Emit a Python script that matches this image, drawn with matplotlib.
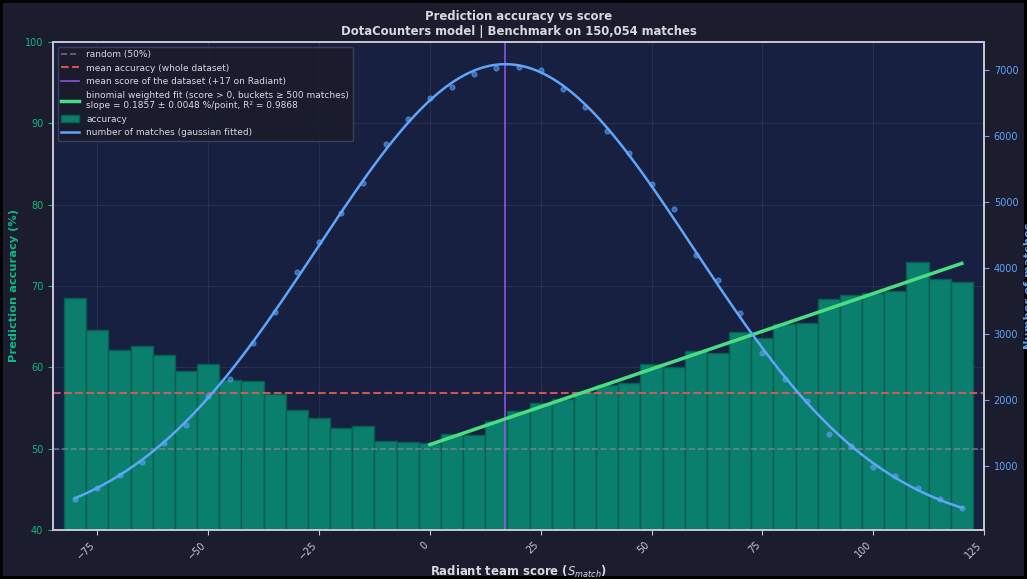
import numpy as np
import matplotlib.pyplot as plt

# score buckets (centre of each 5-point bucket)
scores = [-80, -75, -70, -65, -60, -55, -50, -45, -40, -35, -30, -25, -20, -15, -10, -5,
          0, 5, 10, 15, 20, 25, 30, 35, 40, 45, 50, 55, 60, 65, 70, 75, 80, 85, 90, 95,
          100, 105, 110, 115, 120]
accuracy = [68.5, 64.6, 62.1, 62.6, 61.5, 59.5, 60.4, 58.4, 58.3, 56.7, 54.8, 53.8, 52.5, 52.8,
            51.0, 50.8, 50.7, 51.8, 51.7, 53.4, 54.6, 55.6, 56.1, 57.0, 57.8, 58.1, 60.45, 60.1,
            62.0, 61.8, 64.4, 63.6, 65.3, 65.4, 68.4, 68.9, 69.2, 69.4, 72.9, 70.9, 70.5]
n_matches = [507, 668, 869, 1069, 1362, 1627, 2064, 2316, 2869, 3337, 3934, 4392, 4838, 5282,
             5874, 6246, 6572, 6729, 6934, 7030, 7040, 6990, 6699, 6427, 6075, 5743, 5271, 4894,
             4190, 3813, 3322, 2719, 2327, 1989, 1497, 1311, 994, 858, 673, 502, 376]

mean_accuracy = 56.9
mean_score = 17
fit_slope = 0.1857
fit_intercept = 50.5

x = np.array(scores)
acc = np.array(accuracy)
cnt = np.array(n_matches)

# gaussian fit on the match counts (log-quadratic, weighted)
coef = np.polyfit(x, np.log(cnt), 2, w=cnt)
xs = np.linspace(x.min(), x.max(), 400)
gauss = np.exp(np.polyval(coef, xs))

BG = '#1b1c2e'
AX_BG = '#172040'
TEAL = '#10b981'
BLUE = '#60a5fa'
TXT = '#d8d8e0'

fig, ax1 = plt.subplots(figsize=(10.27, 5.79), dpi=100, linewidth=3, edgecolor='black')
fig.patch.set_facecolor(BG)
ax1.set_facecolor(AX_BG)
fig.subplots_adjust(left=53/1027, right=984/1027, top=1-42/579, bottom=1-530/579)

bars = ax1.bar(x, acc, width=5, color='#0b7f6e', edgecolor='#07604f', linewidth=1,
               label='accuracy')
h_rand = ax1.axhline(50, color='#8a8a9a', ls='--', lw=1.2, alpha=0.7, label='random (50%)')
h_mean = ax1.axhline(mean_accuracy, color='#e05a5a', ls='--', lw=1.5, alpha=0.9,
                     label='mean accuracy (whole dataset)')
h_ms = ax1.axvline(mean_score, color='#9b59f0', lw=1.2, alpha=0.9,
                   label='mean score of the dataset (+17 on Radiant)')
xf = x[x >= 0]
h_fit, = ax1.plot(xf, fit_intercept + fit_slope * xf, color='#4ade80', lw=2.5,
                  label='binomial weighted fit (score > 0, buckets ≥ 500 matches)\n'
                        'slope = 0.1857 ± 0.0048 %/point, R² = 0.9868')

ax1.set_xlim(-85, 125)
ax1.set_ylim(40, 100)
ax1.set_axisbelow(True)
ax1.grid(True, color='#2c3558', lw=0.8, alpha=0.8)

ax2 = ax1.twinx()
ax2.scatter(x, cnt, s=12, color=BLUE, alpha=0.55, zorder=3)
h_g, = ax2.plot(xs, gauss, color=BLUE, lw=1.8, label='number of matches (gaussian fitted)')

for ax in (ax1, ax2):
    for sp in ax.spines.values():
        sp.set_color('#c8c8d0')
        sp.set_linewidth(1.2)

ax1.tick_params(axis='y', colors=TEAL, labelsize=7)
ax1.tick_params(axis='x', colors='#c8c8d0', labelsize=7)
plt.setp(ax1.get_xticklabels(), rotation=45, ha='right')
ax2.tick_params(axis='y', colors=BLUE, labelsize=7)

ax1.set_xlabel('Radiant team score ($S_{match}$)', color=TXT, fontsize=8.4,
               fontweight='bold', labelpad=2)
ax1.set_ylabel('Prediction accuracy (%)', color=TEAL, fontsize=8.2, fontweight='bold')
ax2.set_ylabel('Number of matches', color=BLUE, fontsize=8.2, fontweight='bold')
ax1.set_title('Prediction accuracy vs score\nDotaCounters model | Benchmark on 150,054 matches',
              color=TXT, fontsize=8.4, fontweight='bold', pad=5)

handles = [h_rand, h_mean, h_ms, h_fit, bars, h_g]
leg = ax1.legend(handles, [h.get_label() for h in handles], loc='upper left', fontsize=6.5,
                 facecolor=BG, edgecolor='#3c4058', framealpha=0.95, labelcolor=TXT)
leg.set_zorder(10)

fig.savefig('out.png', dpi=100, facecolor=BG, edgecolor='black')
